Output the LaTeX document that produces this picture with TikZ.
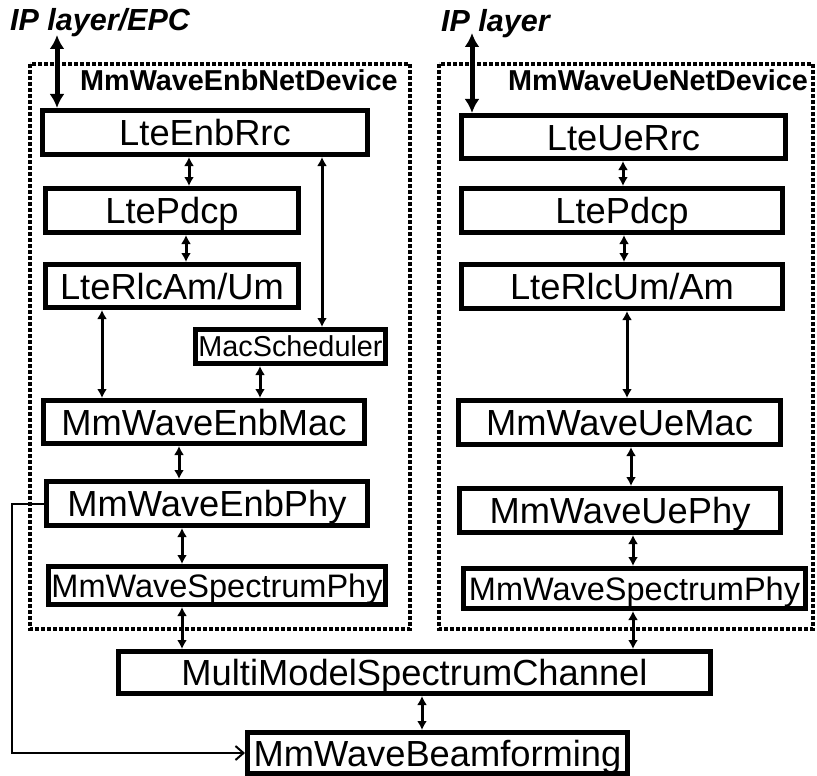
\documentclass[tikz,border=0pt]{standalone}
\usepackage{fontspec}
\setmainfont{Liberation Sans}
\usetikzlibrary{arrows.meta}
\newcommand\fsMain{\fontsize{36.3}{40}\selectfont}
\newcommand\fsSpec{\fontsize{32.5}{36}\selectfont}
\newcommand\fsSched{\fontsize{28.8}{32}\selectfont}
\newcommand\fsHead{\bfseries\fontsize{28.8}{32}\selectfont}
\newcommand\fsIP{\bfseries\itshape\fontsize{30.5}{34}\selectfont}
\begin{document}
\begin{tikzpicture}[x=1pt,y=-1pt,
  layerbox/.style={draw, line width=5pt, inner sep=0pt, font=\fsMain, text height=26pt, text depth=0pt},
  specbox/.style={layerbox, font=\fsSpec, text height=23.3pt},
  schedbox/.style={layerbox, font=\fsSched, text height=20.6pt},
  devbox/.style={line width=4.5pt, dash pattern=on 4pt off 2pt},
  link/.style={line width=3pt, {Latex[length=9pt,width=10pt]}-{Latex[length=9pt,width=10pt]}},
  iplink/.style={line width=5pt, {Latex[length=14pt,width=15pt]}-{Latex[length=14pt,width=15pt]}},
  beamlink/.style={line width=2pt, -{Straight Barb[length=8pt,width=14pt]}},
  head/.style={font=\fsHead, inner sep=0pt, anchor=base west},
  iplabel/.style={font=\fsIP, inner sep=0pt, anchor=base west}]
\useasboundingbox (0,0) rectangle (817,776);

% device boxes
\draw[devbox] (30,64) rectangle (410,629);
\draw[devbox] (439,64) rectangle (813,629);

% labels
\node[iplabel] (ipL) at (10,31) {IP layer/EPC};
\node[iplabel] (ipR) at (441,32) {IP layer};
\node[head] (enbdev) at (80,91) {MmWaveEnbNetDevice};
\node[head] (uedev) at (508,91) {MmWaveUeNetDevice};

% eNB side
\node[layerbox, minimum width=325pt, minimum height=44pt] (EnbRrc) at (205,132.5) {LteEnbRrc};
\node[layerbox, minimum width=253pt, minimum height=44pt] (PdcpL) at (172,210.5) {LtePdcp};
\node[layerbox, minimum width=253pt, minimum height=43pt] (RlcL) at (172,286) {LteRlcAm/Um};
\node[schedbox, minimum width=190pt, minimum height=34pt] (Sched) at (290.5,346.5) {MacScheduler};
\node[layerbox, minimum width=321pt, minimum height=43pt] (EnbMac) at (204,422) {MmWaveEnbMac};
\node[layerbox, minimum width=321pt, minimum height=44pt] (EnbPhy) at (207,503.5) {MmWaveEnbPhy};
\node[specbox, minimum width=337pt, minimum height=38pt] (SpecL) at (217,585.5) {MmWaveSpectrumPhy};

% UE side
\node[layerbox, minimum width=324pt, minimum height=43pt] (UeRrc) at (623.5,137) {LteUeRrc};
\node[layerbox, minimum width=321pt, minimum height=44pt] (PdcpR) at (622,210.5) {LtePdcp};
\node[layerbox, minimum width=321pt, minimum height=44pt] (RlcR) at (622,286.5) {LteRlcUm/Am};
\node[layerbox, minimum width=322pt, minimum height=44pt] (UeMac) at (619.5,422.5) {MmWaveUeMac};
\node[layerbox, minimum width=321pt, minimum height=44pt] (UePhy) at (620,510.5) {MmWaveUePhy};
\node[specbox, minimum width=342pt, minimum height=40pt] (SpecR) at (634.5,588.5) {MmWaveSpectrumPhy};

% shared
\node[layerbox, minimum width=592pt, minimum height=42pt] (Chan) at (414.5,672.5) {MultiModelSpectrumChannel};
\node[layerbox, minimum width=380pt, minimum height=41pt] (Beam) at (437.5,753) {MmWaveBeamforming};

% IP arrows
\coordinate (ipLend) at (57,35);
\coordinate (ipRend) at (472,33);
\draw[iplink] (ipLend) -- (EnbRrc.north -| ipLend);
\draw[iplink] (ipRend) -- (UeRrc.north -| ipRend);

% eNB links
\draw[link] (EnbRrc.south -| 189,0) -- (PdcpL.north -| 189,0);
\draw[link] (PdcpL.south -| 186,0) -- (RlcL.north -| 186,0);
\draw[link] (EnbRrc.south -| 322,0) -- (Sched.north -| 322,0);
\draw[link] (RlcL.south -| 102,0) -- (EnbMac.north -| 102,0);
\draw[link] (Sched.south -| 260,0) -- (EnbMac.north -| 260,0);
\draw[link] (EnbMac.south -| 179,0) -- (EnbPhy.north -| 179,0);
\draw[link] (EnbPhy.south -| 182,0) -- (SpecL.north -| 182,0);
\draw[link] (SpecL.south -| 182,0) -- (Chan.north -| 182,0);

% UE links
\draw[link] (UeRrc.south -| 623,0) -- (PdcpR.north -| 623,0);
\draw[link] (PdcpR.south -| 624,0) -- (RlcR.north -| 624,0);
\draw[link] (RlcR.south -| 627,0) -- (UeMac.north -| 627,0);
\draw[link] (UeMac.south -| 631,0) -- (UePhy.north -| 631,0);
\draw[link] (UePhy.south -| 633,0) -- (SpecR.north -| 633,0);
\draw[link] (SpecR.south -| 633,0) -- (Chan.north -| 633,0);

% channel to beamforming
\draw[link] (Chan.south -| 422,0) -- (Beam.north -| 422,0);

% phy to beamforming
\draw[beamlink] (EnbPhy.west) -- ++(-32,0) |- (Beam.west);
\end{tikzpicture}
\end{document}
